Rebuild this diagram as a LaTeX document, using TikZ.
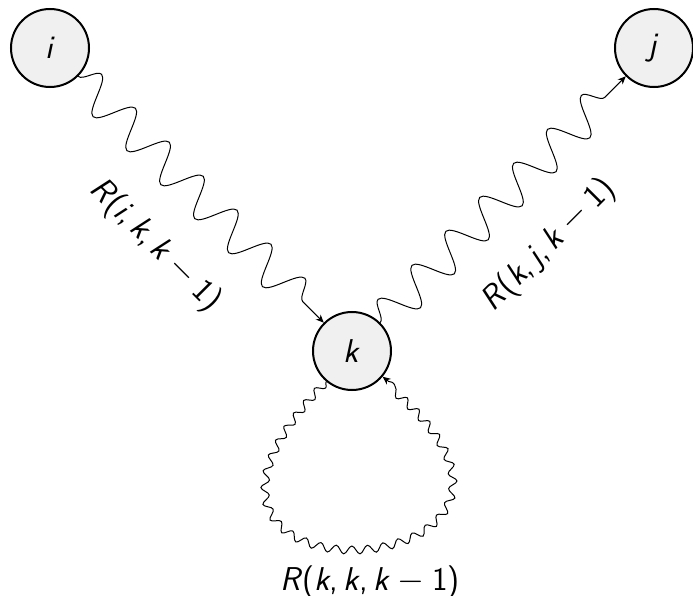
\documentclass[tikz,border=0pt]{standalone}
\usetikzlibrary{decorations.pathmorphing,arrows.meta}
\newcommand\vv[1]{\textit{#1}}
\begin{document}
\begin{tikzpicture}[x=0.5pt,y=0.5pt,
  st/.style={circle, draw, line width=1pt, fill=black!6, minimum size=39pt, inner sep=0pt,
    font=\sffamily\fontsize{16.5}{19}\selectfont},
  wig/.style={decorate, decoration={snake, segment length=24pt, amplitude=9pt, post length=3pt},
    line width=0.5pt, -{Stealth[length=4pt,width=3.5pt]}},
  wigs/.style={decorate, decoration={snake, segment length=8pt, amplitude=2pt, post length=3pt},
    line width=0.5pt, -{Stealth[length=4pt,width=3.5pt]}},
  lbl/.style={font=\sffamily\fontsize{16.5}{19}\selectfont, inner sep=0pt}]
\useasboundingbox (0,0) rectangle (693,596);
\node[st] (i) at (50,548) {\vv{i}};
\node[st] (j) at (654,548) {\vv{j}};
\node[st] (k) at (352,245) {\vv{k}};
\draw[wig] (i) -- (k);
\draw[wig] (k) -- (j);
\draw[wigs] (k.230) .. controls +(226:335) and +(322:335) .. (k.320);
\path (i) -- (k) node[lbl, midway, sloped, below=24pt] (lik) {\vv{R}(\vv{i},\,\vv{k},\,\vv{k}${}-{}$1)};
\path (k) -- (j) node[lbl, midway, sloped, below=24pt] (lkj) {\vv{R}(\vv{k},\,\vv{j},\,\vv{k}${}-{}$1)};
\node[lbl] (lkk) at (370,14) {\vv{R}(\vv{k},\,\vv{k},\,\vv{k}${}-{}$1)};
\end{tikzpicture}
\end{document}
